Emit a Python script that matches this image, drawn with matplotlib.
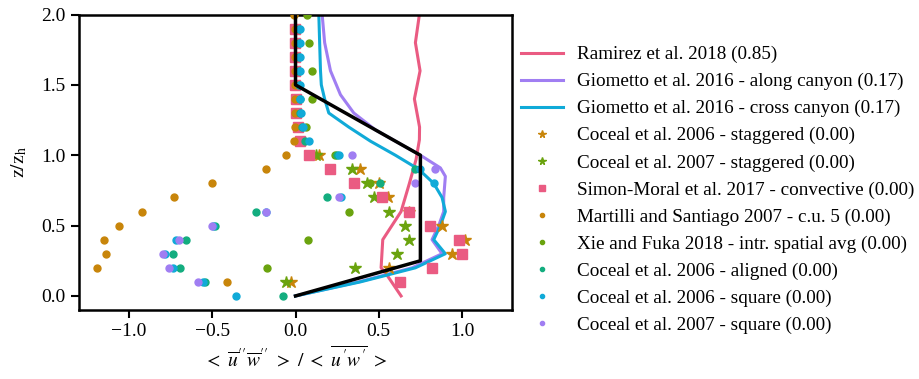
import matplotlib
matplotlib.use("Agg")
import matplotlib.pyplot as plt

plt.rcParams['font.family'] = ['Liberation Serif', 'DejaVu Serif']
plt.rcParams['mathtext.fontset'] = 'stix'

# ---------------- data ----------------
ramirez_x = [0.634, 0.554, 0.514, 0.524, 0.634, 0.684, 0.724, 0.744, 0.745, 0.714, 0.748, 0.720, 0.744]
ramirez_z = [0.0, 0.14, 0.2, 0.4, 0.6, 0.8, 0.97, 1.11, 1.2, 1.4, 1.6, 1.8, 2.0]

along_x = [0.0, 0.38, 0.70, 0.88, 0.82, 0.86, 0.89, 0.89, 0.90, 0.87, 0.75, 0.60, 0.48, 0.35, 0.27, 0.21, 0.175, 0.16]
along_z = [0.0, 0.1, 0.2, 0.3, 0.4, 0.5, 0.6, 0.7, 0.85, 0.91, 1.0, 1.1, 1.18, 1.3, 1.43, 1.6, 1.8, 2.0]

cross_x = [0.0, 0.39, 0.72, 0.90, 0.83, 0.87, 0.90, 0.88, 0.83, 0.74, 0.60, 0.45, 0.32, 0.20, 0.175, 0.155, 0.15, 0.145, 0.14]
cross_z = [0.0, 0.1, 0.2, 0.3, 0.4, 0.5, 0.6, 0.7, 0.8, 0.9, 1.0, 1.1, 1.2, 1.3, 1.4, 1.5, 1.6, 1.8, 2.0]

stag06_z = [0.1, 0.2, 0.3, 0.4, 0.5, 0.6, 0.7, 0.8, 0.9, 1.0]
stag06_x = [-0.03, 0.563, 0.937, 1.02, 0.88, 0.68, 0.557, 0.50, 0.387, 0.14]

stag07_z = [0.1, 0.2, 0.3, 0.4, 0.5, 0.6, 0.7, 0.8, 0.9, 1.0]
stag07_x = [-0.06, 0.36, 0.607, 0.683, 0.655, 0.56, 0.473, 0.427, 0.338, 0.124]

simon_z = [0.1, 0.2, 0.3, 0.4, 0.5, 0.6, 0.7, 0.8, 0.9, 1.0,
           1.1, 1.2, 1.3, 1.4, 1.5, 1.6, 1.7, 1.8, 1.9]
simon_x = [0.625, 0.82, 1.0, 0.98, 0.81, 0.68, 0.52, 0.35, 0.21, 0.084,
           0.026, 0.014, 0.004, 0.0, -0.004, -0.005, -0.005, -0.005, -0.005]

martilli_z = [0.1, 0.2, 0.3, 0.4, 0.5, 0.6, 0.7, 0.8, 0.9, 1.0,
              1.1, 1.2, 1.3, 1.4, 1.5, 1.6, 1.7, 1.8, 1.9, 2.0]
martilli_x = [-0.41, -1.19, -1.14, -1.15, -1.06, -0.92, -0.73, -0.50, -0.18, -0.06,
              -0.01, -0.005, -0.005, -0.005, -0.005, -0.005, -0.005, -0.005, -0.005, -0.01]

xie_z = [0.2, 0.4, 0.6, 0.8, 1.0, 1.2, 1.4, 1.6, 1.8, 2.0]
xie_x = [-0.17, 0.074, 0.32, 0.45, 0.24, 0.064, 0.098, 0.10, 0.084, 0.068]

aligned_z = [0.0, 0.1, 0.2, 0.3, 0.4, 0.5, 0.6, 0.7, 0.8, 0.9, 1.0,
             1.1, 1.2, 1.3, 1.4, 1.5, 1.6, 1.7, 1.8, 1.9]
aligned_x = [-0.076, -0.545, -0.692, -0.734, -0.658, -0.486, -0.24, 0.19, 0.51, 0.72, 0.25,
             0.058, 0.04, 0.03, 0.025, 0.022, 0.022, 0.02, 0.02, 0.02]

square06_z = [0.0, 0.1, 0.2, 0.3, 0.4, 0.5, 0.6, 0.7, 0.8, 0.9, 1.0,
              1.1, 1.2, 1.3, 1.4, 1.5, 1.6, 1.7, 1.8, 1.9]
square06_x = [-0.356, -0.556, -0.736, -0.784, -0.716, -0.495, -0.175, 0.274, 0.83, 0.745, 0.263,
              0.08, 0.044, 0.034, 0.028, 0.026, 0.026, 0.024, 0.024, 0.024]

square07_z = [0.1, 0.2, 0.3, 0.4, 0.5, 0.6, 0.7, 0.8, 0.9, 1.0]
square07_x = [-0.584, -0.76, -0.796, -0.70, -0.50, -0.18, 0.263, 0.716, 0.84, 0.34]

ref_x = [0.0, 0.75, 0.75, 0.0, 0.0]
ref_z = [0.0, 0.25, 1.0, 1.5, 2.0]

labels = ["Ramirez et al. 2018 (0.85)",
          "Giometto et al. 2016 - along canyon (0.17)",
          "Giometto et al. 2016 - cross canyon (0.17)",
          "Coceal et al. 2006 - staggered (0.00)",
          "Coceal et al. 2007 - staggered (0.00)",
          "Simon-Moral et al. 2017 - convective (0.00)",
          "Martilli and Santiago 2007 - c.u. 5 (0.00)",
          "Xie and Fuka 2018 - intr. spatial avg (0.00)",
          "Coceal et al. 2006 - aligned (0.00)",
          "Coceal et al. 2006 - square (0.00)",
          "Coceal et al. 2007 - square (0.00)"]

PINK = '#ea5b82'
PURPLE = '#a07ef2'
CYAN = '#10aad8'
ORANGE = '#c8850a'
GREEN = '#6aa30e'
TEAL = '#13ad7f'

fig = plt.figure(figsize=(9.2, 3.79), dpi=100)
ax = fig.add_axes([0.0859, 0.182, 0.4706, 0.7797])

lw = 2.2
ms_dot = 5.0
ax.plot(ramirez_x, ramirez_z, color=PINK, lw=lw, label=labels[0], zorder=2)
ax.plot(along_x, along_z, color=PURPLE, lw=lw, label=labels[1], zorder=2)
ax.plot(cross_x, cross_z, color=CYAN, lw=lw, label=labels[2], zorder=2)
ax.plot(stag06_x, stag06_z, ls='none', marker='*', ms=9, color=ORANGE, label=labels[3], zorder=3)
ax.plot(stag07_x, stag07_z, ls='none', marker='*', ms=9, color=GREEN, label=labels[4], zorder=3)
ax.plot(simon_x, simon_z, ls='none', marker='s', ms=7.5, color=PINK, label=labels[5], zorder=3)
ax.plot(martilli_x, martilli_z, ls='none', marker='o', ms=ms_dot, color=ORANGE, label=labels[6], zorder=3)
ax.plot(xie_x, xie_z, ls='none', marker='o', ms=ms_dot, color=GREEN, label=labels[7], zorder=3)
ax.plot(aligned_x, aligned_z, ls='none', marker='o', ms=ms_dot, color=TEAL, label=labels[8], zorder=3)
ax.plot(square06_x, square06_z, ls='none', marker='o', ms=ms_dot, color=CYAN, label=labels[9], zorder=3)
ax.plot(square07_x, square07_z, ls='none', marker='o', ms=ms_dot, color=PURPLE, label=labels[10], zorder=3)
ax.plot(ref_x, ref_z, color='black', lw=2.5, zorder=4)

ax.set_xlim(-1.3, 1.3)
ax.set_ylim(-0.1, 2.0)
ax.set_xticks([-1.0, -0.5, 0.0, 0.5, 1.0])
ax.set_yticks([0.0, 0.5, 1.0, 1.5, 2.0])
for s in ax.spines.values():
    s.set_linewidth(1.8)
ax.tick_params(labelsize=14, width=1.5, length=6)
ax.set_xlabel(r"$<\ \overline{u}''\overline{w}''\ >\ /\ <\ \overline{u'w'}\ >$", fontsize=14, labelpad=4)
ax.set_ylabel(r"$\mathrm{z/z_h}$", fontsize=14, labelpad=9)

ax.legend(loc='upper left', bbox_to_anchor=(1.003, 0.92), frameon=False,
          fontsize=13.8, markerscale=0.6, handlelength=2.2, handletextpad=0.73,
          labelspacing=0.5, borderaxespad=0.0)

fig.savefig("out.png", dpi=100)
